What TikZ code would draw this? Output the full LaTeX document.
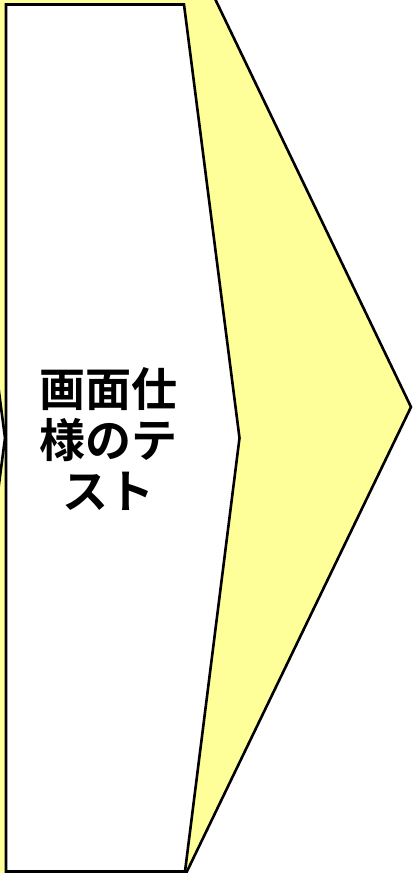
\documentclass[tikz,border=0pt]{standalone}
\usepackage{fontspec}
\newfontfamily\cjk{Noto Sans CJK JP}[BoldFont={Noto Sans CJK JP Bold}]
\definecolor{chevyellow}{HTML}{FFFF99}
\tikzset{
  shapeline/.style={draw=black, line width=2.6pt, line join=miter},
  label/.style={font=\cjk\bfseries\fontsize{46}{51}\selectfont, align=center, inner sep=0pt}
}
\begin{document}
\begin{tikzpicture}[x=1pt,y=-1pt]
\useasboundingbox (0,0) rectangle (413,873);
\begin{scope}
\clip (0,0) rectangle (413,873);
% background yellow chevron
\path[shapeline, fill=chevyellow] (-50,-20) -- (206,-20) -- (411,407) -- (178,890) -- (-50,890) -- (-50,861) -- (5,438) -- (-50,15) -- cycle;
% white pentagon
\path[shapeline, fill=white] (6,4.5) -- (184,4.5) -- (239.5,438) -- (185,871.5) -- (6,871.5) -- cycle;
\end{scope}
\node[label] (t) at (108,439) {画面仕\\様のテ\\スト};
\end{tikzpicture}
\end{document}
